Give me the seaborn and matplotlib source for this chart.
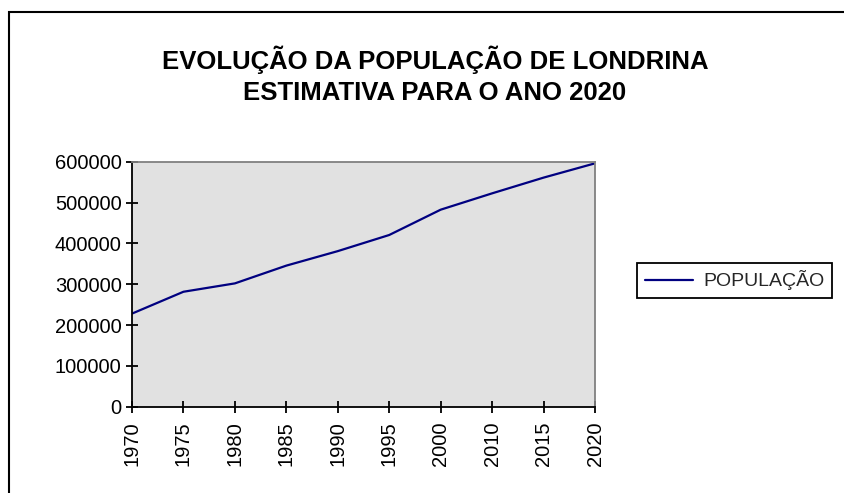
import matplotlib
matplotlib.use("Agg")
import matplotlib.pyplot as plt
from matplotlib.patches import Rectangle
import seaborn as sns
import pandas as pd

years = ["1970", "1975", "1980", "1985", "1990", "1995", "2000", "2010", "2015", "2020"]
populacao = [228000, 281500, 302000, 345500, 381000, 420500, 482500, 522500, 561000, 596000]
y_ticks = [0, 100000, 200000, 300000, 400000, 500000, 600000]
title_lines = ["EVOLUÇÃO DA POPULAÇÃO DE LONDRINA", "ESTIMATIVA PARA O ANO 2020"]
series_name = "POPULAÇÃO"

df = pd.DataFrame({"ano": years, "pop": populacao})

sns.set_theme(style="white")
plt.rcParams["font.family"] = ["Liberation Sans", "DejaVu Sans"]

W, H = 844, 493
fig = plt.figure(figsize=(W / 100, H / 100), dpi=100)
ax = fig.add_axes([132 / W, 1 - 406.7 / H, (595 - 132) / W, (406.7 - 161.7) / H])
ax.set_facecolor("#e1e1e1")

sns.lineplot(data=df, x="ano", y="pop", ax=ax, color="#000080", linewidth=1.6,
             sort=False, label=series_name)

ax.set_xlim(0, len(years) - 1)
ax.set_ylim(0, 600000)
ax.set_yticks(y_ticks)
ax.set_yticklabels([str(v) for v in y_ticks])
ax.set_xticks(range(len(years)))
ax.set_xticklabels(years, rotation=90)
ax.set_xlabel("")
ax.set_ylabel("")

for s in ["left", "bottom"]:
    ax.spines[s].set_color("black")
    ax.spines[s].set_linewidth(1.3)
for s in ["top", "right"]:
    ax.spines[s].set_color("#808080")
    ax.spines[s].set_linewidth(1.3)

ax.tick_params(axis="both", bottom=True, left=True, top=False, right=False,
               direction="inout", length=8, width=1.3, color="black",
               labelsize=14.5, labelcolor="black")
ax.tick_params(axis="y", pad=3.5)
ax.tick_params(axis="x", pad=6.5)

fig.text(435 / W, 1 - 60 / H, title_lines[0], ha="center", va="center",
         fontsize=18.5, fontweight="bold", color="black")
fig.text(435 / W, 1 - 92.5 / H, title_lines[1], ha="center", va="center",
         fontsize=18.5, fontweight="bold", color="black")

leg = ax.legend(loc="center left", bbox_to_anchor=(637 / W, 1 - 280.5 / H),
                bbox_transform=fig.transFigure, borderaxespad=0, frameon=True,
                fancybox=False, edgecolor="black", framealpha=1, fontsize=14,
                handlelength=2.5, handletextpad=0.5, borderpad=0.4)
leg.get_frame().set_linewidth(1.3)
leg.get_frame().set_facecolor("white")

fig.patches.append(Rectangle((9 / W, -0.1), 2, 1 - 12 / H + 0.1,
                             transform=fig.transFigure, fill=False,
                             edgecolor="black", linewidth=1.5))

fig.savefig("out.png", dpi=100, facecolor="white")
